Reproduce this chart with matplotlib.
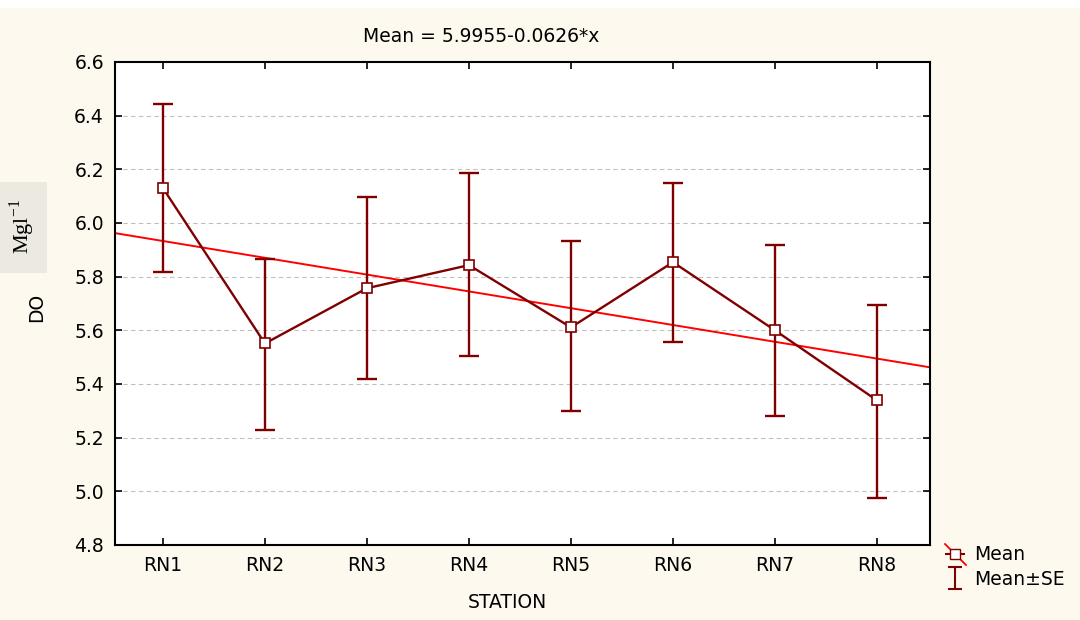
import numpy as np
import matplotlib
matplotlib.use("Agg")
import matplotlib.pyplot as plt
from matplotlib.lines import Line2D
from matplotlib.patches import Rectangle
from matplotlib.path import Path

plt.rcParams["font.family"] = ["DejaVu Sans"]

# data
stations = ["RN1", "RN2", "RN3", "RN4", "RN5", "RN6", "RN7", "RN8"]
means = [6.130, 5.551, 5.757, 5.843, 5.611, 5.854, 5.600, 5.339]
upper = [6.443, 5.865, 6.096, 6.186, 5.932, 6.149, 5.917, 5.693]
lower = [5.816, 5.227, 5.417, 5.503, 5.298, 5.555, 5.279, 4.977]
intercept, slope = 5.9955, -0.0626
yticks = [4.8, 5.0, 5.2, 5.4, 5.6, 5.8, 6.0, 6.2, 6.4, 6.6]

BG = "#fdf9ef"
DARK = "#800000"
FS = 13.5

fig = plt.figure(figsize=(10.8, 6.2), dpi=100, facecolor=BG)
fig.patches.append(Rectangle((0, 1 - 8 / 620), 1, 8 / 620, transform=fig.transFigure,
                             facecolor="white", edgecolor="none", zorder=0))
ax = fig.add_axes([115 / 1080, 1 - 545 / 620, 815 / 1080, 483 / 620])
ax.set_facecolor("white")

x = np.arange(1, len(stations) + 1)
xlim = (0.53, 8.52)
m = np.array(means)
yerr = [m - np.array(lower), np.array(upper) - m]

# regression line
xl = np.array(xlim)
ax.plot(xl, intercept + slope * xl, color="#ff0000", lw=1.4, zorder=2)

ax.errorbar(x, m, yerr=yerr, fmt="none", ecolor=DARK, elinewidth=1.7,
            capsize=7, capthick=1.7, zorder=3)
ax.plot(x, m, color=DARK, lw=1.7, marker="s", ms=7, mfc="white", mec=DARK,
        mew=1.2, zorder=4)

ax.set_xlim(*xlim)
ax.set_ylim(4.8, 6.6)
ax.set_xticks(x)
ax.set_xticklabels(stations)
ax.set_yticks(yticks)
ax.set_yticklabels([f"{v:.1f}" for v in yticks])
ax.tick_params(direction="in", top=True, right=True, length=5, width=1.2,
               labelsize=FS, pad=8)
for s in ax.spines.values():
    s.set_linewidth(1.5)
for v in yticks[1:-1]:
    ax.axhline(v, color="#c0c0c0", lw=0.8, ls=(0, (4, 3)), zorder=1)

fig.text(481 / 1080, 1 - 37 / 620, "Mean = 5.9955-0.0626*x", ha="center",
         va="center", fontsize=FS)
fig.text(37 / 1080, 1 - 307 / 620, "DO", rotation=90, ha="center", va="center",
         fontsize=FS)
fig.text(507 / 1080, 1 - 603 / 620, "STATION", ha="center", va="center",
         fontsize=FS)

# unit box on the left
fig.patches.append(Rectangle((0, 1 - 273 / 620), 47 / 1080, 91 / 620,
                             transform=fig.transFigure, facecolor="#ebe9e0",
                             edgecolor="none", zorder=1))
fig.text(22 / 1080, 1 - 226 / 620, r"Mgl$^{\mathregular{-1}}$", rotation=90,
         ha="center", va="center", fontsize=16,
         family=["Liberation Serif", "DejaVu Serif"])

# legend handles
diag = Path([(-1, 1), (1, -1)], [Path.MOVETO, Path.LINETO])
ibeam = Path([(-0.6, -1), (0.6, -1), (0, -1), (0, 1), (-0.6, 1), (0.6, 1)],
             [Path.MOVETO, Path.LINETO, Path.MOVETO, Path.LINETO, Path.MOVETO, Path.LINETO])
h_mean = (Line2D([], [], color=DARK, lw=1.5),
          Line2D([], [], color="#ff0000", marker=diag, ms=16, mew=1.3, linestyle="none"),
          Line2D([], [], color=DARK, marker="s", ms=7, mfc="white", mec=DARK,
                 linestyle="none"))
h_se = Line2D([], [], color=DARK, marker=ibeam, ms=16, mew=1.5, linestyle="none")
fig.legend([h_mean, h_se], ["Mean", "Mean±SE"], loc="center left",
           bbox_to_anchor=(938 / 1080, 1 - 567 / 620), frameon=False,
           fontsize=FS, handlelength=1.0, handletextpad=0.5, labelspacing=0.3,
           borderaxespad=0)

fig.savefig("out.png", dpi=100, facecolor=BG)
